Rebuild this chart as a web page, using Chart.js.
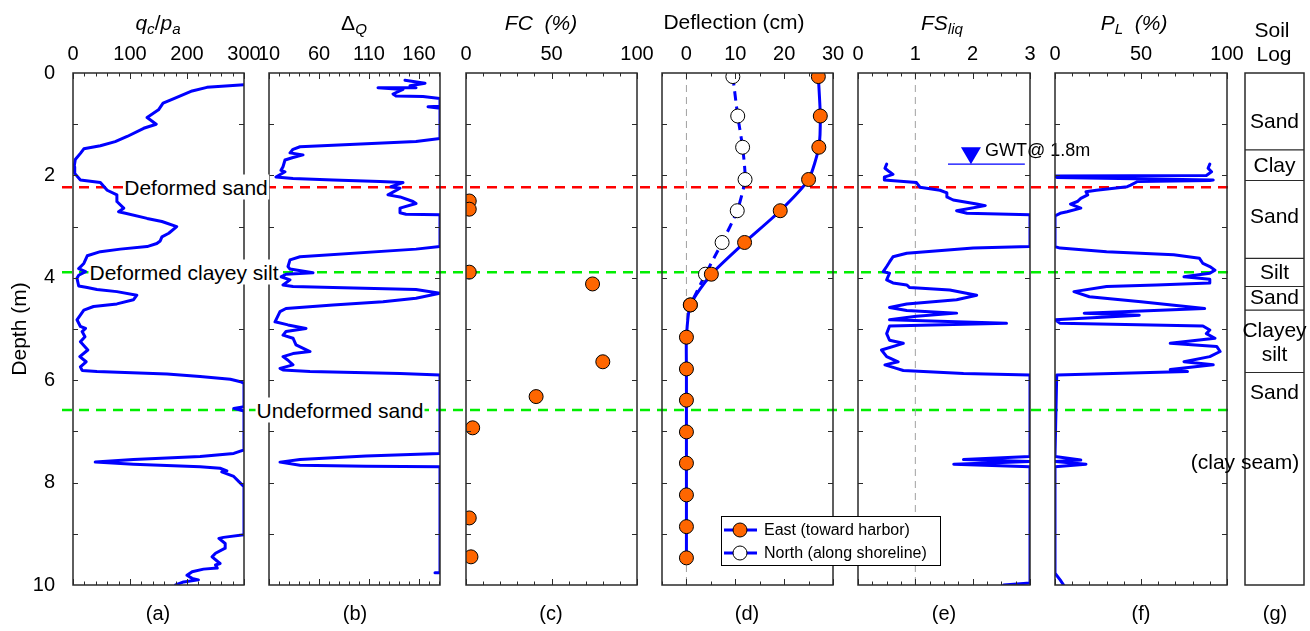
<!DOCTYPE html>
<html>
<head>
<meta charset="utf-8">
<title>Site profile</title>
<script src="https://cdn.jsdelivr.net/npm/chart.js@4/dist/chart.umd.min.js"></script>
<style>
  body { margin: 0; background: #fff; }
  #fig { position: relative; width: 1310px; height: 631px; overflow: hidden;
         font-family: "Liberation Sans", Arial, Helvetica, sans-serif; }
  #fig canvas { position: absolute; top: 0; }
  .txt { position: absolute; transform: translate(-50%, -50%); white-space: nowrap;
         line-height: 1; color: #000; z-index: 6; }
  .ttl { font-size: 21px; }
  .lbl { font-size: 20px; }
  .cut { font-size: 21px; background: #fff; padding: 2px 1px; z-index: 5; }
  sub { font-size: 0.72em; vertical-align: -0.3em; line-height: 0; }
</style>
</head>
<body>
<div id="fig"></div>
<script>
const FONT = '"Liberation Sans", Arial, Helvetica, sans-serif';
const BLUE = '#0000ff';
const ORANGE = '#ff6600';
const FRAME = '#2a2a2a';

// [depth (m), value] pairs of the CPT-based profiles
const qcProfile = [
  [0.23, 300], [0.28, 235], [0.35, 209], [0.50, 177], [0.59, 158], [0.72, 150], [0.87, 130],
  [1.00, 146], [1.08, 124], [1.24, 95], [1.34, 74], [1.42, 48], [1.48, 19], [1.57, 13],
  [1.69, 4], [1.83, 2], [1.96, 3], [2.09, 13], [2.14, 48], [2.29, 60], [2.38, 77], [2.51, 77],
  [2.64, 89], [2.71, 80], [2.74, 92], [2.84, 130], [2.90, 156], [3.00, 182], [3.13, 168],
  [3.20, 156], [3.28, 153], [3.33, 147], [3.39, 130], [3.44, 83], [3.49, 48], [3.57, 25],
  [3.72, 19], [3.82, 10], [3.88, 22], [3.95, 10], [4.01, 7], [4.16, 10], [4.19, 25],
  [4.23, 42], [4.27, 77], [4.34, 112], [4.43, 106], [4.51, 77], [4.56, 36], [4.63, 19],
  [4.82, 7], [4.95, 13], [4.99, 22], [5.05, 16], [5.15, 21], [5.25, 13], [5.41, 26],
  [5.54, 12], [5.64, 23], [5.74, 13], [5.81, 16], [5.83, 42], [5.88, 165], [5.93, 223],
  [5.98, 276], [6.03, 294], [6.06, 300], [6.52, 300], [6.55, 282], [6.60, 300], [7.36, 300],
  [7.43, 282], [7.49, 223], [7.55, 106], [7.60, 39], [7.64, 106], [7.69, 223], [7.72, 258],
  [7.77, 270], [7.79, 261], [7.88, 282], [7.98, 291], [8.08, 300], [9.02, 300], [9.07, 264],
  [9.09, 256], [9.19, 267], [9.28, 267], [9.38, 250], [9.45, 244], [9.58, 258], [9.61, 250],
  [9.67, 253], [9.69, 229], [9.74, 209], [9.81, 200], [9.87, 209], [9.90, 220], [9.94, 194],
  [10.0, 180]
];
const dqProfile = [
  [0.14, 146], [0.20, 166], [0.25, 151], [0.29, 157], [0.29, 119], [0.32, 144], [0.41, 134],
  [0.45, 137], [0.46, 164], [0.50, 181], [0.65, 181], [0.66, 169], [0.69, 181], [1.28, 181],
  [1.34, 157], [1.44, 41], [1.49, 34], [1.56, 31], [1.60, 44], [1.65, 34], [1.70, 26],
  [1.83, 24], [1.90, 22], [1.93, 26], [2.03, 17], [2.06, 34], [2.09, 74], [2.12, 121],
  [2.14, 144], [2.22, 132], [2.25, 141], [2.38, 129], [2.42, 141], [2.51, 154], [2.55, 157],
  [2.64, 141], [2.73, 141], [2.76, 147], [2.77, 181], [3.39, 181], [3.44, 157], [3.59, 41],
  [3.65, 31], [3.78, 29], [3.83, 31], [3.90, 54], [3.93, 27], [3.98, 22], [4.04, 31],
  [4.14, 24], [4.17, 34], [4.19, 74], [4.23, 157], [4.30, 181], [4.40, 157], [4.47, 124],
  [4.53, 74], [4.60, 27], [4.66, 21], [4.86, 16], [4.92, 29], [4.99, 47], [5.05, 27],
  [5.12, 24], [5.18, 34], [5.31, 37], [5.44, 51], [5.48, 34], [5.54, 24], [5.61, 29],
  [5.70, 34], [5.77, 21], [5.80, 24], [5.83, 51], [5.87, 141], [5.90, 181], [7.43, 181],
  [7.48, 107], [7.55, 41], [7.60, 21], [7.66, 41], [7.68, 107], [7.69, 181], [9.76, 181],
  [9.76, 176]
];
const fsProfile = [
  [1.78, 0.50], [1.86, 0.47], [1.93, 0.55], [1.98, 0.61], [2.03, 0.47], [2.09, 0.46],
  [2.14, 1.02], [2.23, 1.08], [2.29, 1.43], [2.34, 1.55], [2.42, 1.55], [2.48, 1.66],
  [2.56, 2.07], [2.59, 2.22], [2.69, 1.72], [2.74, 1.90], [2.77, 3.0], [3.39, 3.0],
  [3.42, 2.01], [3.52, 0.85], [3.59, 0.61], [3.69, 0.55], [3.78, 0.50], [3.88, 0.44],
  [3.91, 0.55], [4.04, 0.50], [4.10, 0.61], [4.14, 0.85], [4.19, 0.90], [4.24, 1.60],
  [4.34, 2.07], [4.43, 1.72], [4.51, 0.85], [4.58, 0.55], [4.64, 0.85], [4.69, 1.72],
  [4.75, 1.02], [4.82, 0.55], [4.89, 2.59], [4.94, 0.55], [5.09, 0.50], [5.22, 0.55],
  [5.28, 0.79], [5.41, 0.41], [5.54, 0.50], [5.64, 0.70], [5.70, 0.47], [5.77, 0.67],
  [5.81, 0.79], [5.87, 1.84], [5.90, 3.0], [7.49, 3.0], [7.55, 1.84], [7.59, 3.0],
  [7.64, 1.67], [7.69, 3.0], [9.96, 3.0], [10.0, 2.54]
];
const plProfile = [
  [1.78, 90], [1.86, 89], [1.93, 91], [2.00, 88], [2.01, 0], [2.04, 1], [2.09, 92], [2.10, 90],
  [2.12, 48], [2.19, 44], [2.22, 42], [2.29, 24], [2.32, 18], [2.38, 19], [2.45, 15],
  [2.51, 13], [2.56, 9], [2.64, 15], [2.71, 7], [2.74, 3], [2.79, 0], [3.39, 0], [3.42, 3],
  [3.49, 30], [3.55, 69], [3.62, 84], [3.72, 86], [3.78, 90], [3.85, 93], [3.91, 90],
  [3.98, 75], [4.03, 90], [4.10, 90], [4.14, 59], [4.17, 30], [4.27, 11], [4.37, 20],
  [4.47, 50], [4.60, 87], [4.69, 17], [4.73, 49], [4.82, 0], [4.89, 3], [4.94, 86],
  [5.02, 90], [5.09, 88], [5.18, 93], [5.28, 67], [5.34, 94], [5.44, 96], [5.54, 90],
  [5.64, 75], [5.70, 92], [5.79, 67], [5.83, 77], [5.90, 1], [7.49, 0], [7.56, 15],
  [7.59, 0], [7.64, 18], [7.69, 0], [9.77, 0], [9.90, 3], [10.0, 5]
];

// fines content samples
const fcDepth = [2.50, 2.66, 3.89, 4.12, 5.64, 6.32, 6.93, 8.69, 9.45];
const fcValue = [1.9, 1.9, 1.9, 74, 80, 41, 3.9, 1.9, 2.9];

// inclinometer deflection
const deflDepth = [0.07, 0.84, 1.45, 2.08, 2.69, 3.31, 3.93, 4.53, 5.16, 5.78, 6.39, 7.01, 7.62, 8.24, 8.86, 9.47];
const eastDefl = [27.0, 27.4, 27.1, 25.0, 19.2, 11.9, 5.1, 0.8, 0, 0, 0, 0, 0, 0, 0, 0];
const northDefl = [9.5, 10.5, 11.5, 12.0, 10.4, 7.3, 3.9, 0.8];

// top axis tick labels
const qcTicks = [0, 100, 200, 300];
const dqTicks = [10, 60, 110, 160];
const fcTicks = [0, 50, 100];
const deflTicks = [0, 10, 20, 30];
const fsTicks = [0, 1, 2, 3];
const plTicks = [0, 50, 100];
const depthTicks = [0, 2, 4, 6, 8, 10];

// horizontal markers running across the panels
const markerDepth = [2.23, 3.89, 6.58];
const markerColor = ['#ff0000', '#00ee00', '#00ee00'];
const markerText = ['Deformed sand', 'Deformed clayey silt', 'Undeformed sand'];

// soil log
const soilBounds = [1.5, 2.1, 3.62, 4.17, 4.63, 5.85];
const soilNames = ['Sand', 'Clay', 'Sand', 'Silt', 'Sand', 'Clayey', 'silt', 'Sand', '(clay seam)'];
const soilNameDepth = [0.97, 1.83, 2.81, 3.91, 4.40, 5.05, 5.51, 6.26, 7.62];
const soilNameX = [0.5, 0.5, 0.5, 0.5, 0.5, 0.5, 0.5, 0.5, 0];

const gwtDepth = 1.8;

Chart.defaults.font.family = FONT;
Chart.defaults.color = '#000';

const fig = document.getElementById('fig');
const TOP = 73, BOTTOM = 585, H = 631;

function addText(html, x, y, cls) {
  const d = document.createElement('div');
  d.className = 'txt ' + cls;
  d.innerHTML = html;
  d.style.left = x + 'px';
  d.style.top = y + 'px';
  fig.appendChild(d);
}

function addCanvas(left, width, z) {
  const c = document.createElement('canvas');
  c.width = width;
  c.height = H;
  c.style.left = left + 'px';
  c.style.zIndex = z;
  fig.appendChild(c);
  return c;
}

function range(a, b, step) {
  const out = [];
  for (let v = a; v <= b + 1e-9; v += step) out.push(+v.toFixed(4));
  return out;
}

const pts = arr => arr.map(([d, v]) => ({ x: v, y: d }));

const profile = arr => ({
  data: pts(arr), showLine: true, borderColor: BLUE, borderWidth: 3,
  pointRadius: 0, tension: 0, borderJoinStyle: 'round', borderCapStyle: 'round'
});

const refLine = v => ({
  data: [{ x: v, y: 0 }, { x: v, y: 10 }], showLine: true, borderColor: '#a0a0a0',
  borderWidth: 1, borderDash: [7, 5], pointRadius: 0
});

// box around the plot area plus inward ticks on all four sides
const frameTicks = {
  id: 'frameTicks',
  afterDatasetsDraw(chart, args, o) {
    if (!o.on) return;
    const { ctx, chartArea: a, scales: { x, y } } = chart;
    const seg = (x1, y1, x2, y2) => { ctx.moveTo(x1, y1); ctx.lineTo(x2, y2); };
    ctx.save();
    ctx.strokeStyle = FRAME;
    ctx.lineWidth = 1;
    ctx.beginPath();
    (o.major || []).forEach(v => {
      const p = Math.round(x.getPixelForValue(v)) + 0.5;
      seg(p, a.top, p, a.top + 6);
      seg(p, a.bottom, p, a.bottom - 6);
    });
    (o.minor || []).forEach(v => {
      const p = Math.round(x.getPixelForValue(v)) + 0.5;
      seg(p, a.top, p, a.top + 3.5);
      seg(p, a.bottom, p, a.bottom - 3.5);
    });
    if (o.depthTicks) {
      for (let d = 1; d < 10; d++) {
        const p = Math.round(y.getPixelForValue(d)) + 0.5;
        seg(a.left, p, a.left + 5, p);
        seg(a.right, p, a.right - 5, p);
      }
    }
    ctx.stroke();
    ctx.lineWidth = 1.5;
    ctx.strokeRect(a.left, a.top, a.right - a.left, a.bottom - a.top);
    ctx.restore();
  }
};
Chart.register(frameTicks);

function panel({ left, width = 171, padL = 30, padR = 30, z = 2, x, yAxis, datasets, ticks = {}, plugins = [] }) {
  const canvas = addCanvas(left - padL, padL + width + padR, z);
  const labels = x.labels || [];
  return new Chart(canvas, {
    type: 'scatter',
    data: { datasets },
    options: {
      responsive: false,
      animation: false,
      events: [],
      layout: { padding: { left: yAxis ? 0 : padL, right: padR, top: 0, bottom: H - BOTTOM } },
      scales: {
        x: {
          type: 'linear', position: 'top', min: x.min, max: x.max,
          grid: { display: false }, border: { display: false },
          afterBuildTicks: s => { s.ticks = labels.map(v => ({ value: v })); },
          afterFit: s => { s.height = TOP; },
          ticks: { display: labels.length > 0, autoSkip: false, maxRotation: 0, padding: -1.5,
                   font: { size: 20 }, callback: v => String(v) }
        },
        y: yAxis || { type: 'linear', reverse: true, min: 0, max: 10, display: false }
      },
      plugins: {
        legend: { display: false },
        tooltip: { enabled: false },
        frameTicks: Object.assign({ on: true, depthTicks: true }, ticks)
      }
    },
    plugins
  });
}

// dashed markers behind the panels
new Chart(addCanvas(0, 1310, 1), {
  type: 'scatter',
  data: {
    datasets: markerDepth.map((d, i) => ({
      data: [{ x: 0, y: d }, { x: 1, y: d }], showLine: true, borderColor: markerColor[i],
      borderWidth: 2.5, borderDash: [10, 7], pointRadius: 0
    }))
  },
  options: {
    responsive: false, animation: false, events: [],
    layout: { padding: { left: 62, right: 77, top: TOP, bottom: H - BOTTOM } },
    scales: {
      x: { type: 'linear', min: 0, max: 1, display: false },
      y: { type: 'linear', reverse: true, min: 0, max: 10, display: false }
    },
    plugins: { legend: { display: false }, tooltip: { enabled: false } }
  }
});

// (a) normalised cone resistance, with the depth axis
panel({
  left: 73, padL: 73,
  x: { min: 0, max: 300, labels: qcTicks },
  yAxis: {
    type: 'linear', reverse: true, min: 0, max: 10, position: 'left',
    grid: { display: false }, border: { display: false },
    afterBuildTicks: s => { s.ticks = depthTicks.map(v => ({ value: v })); },
    afterFit: s => { s.width = 73; },
    ticks: { padding: 10, font: { size: 20 } },
    title: { display: true, text: 'Depth (m)', font: { size: 21 }, padding: { top: 8, bottom: 0 } }
  },
  datasets: [profile(qcProfile)],
  ticks: { major: qcTicks, minor: range(0, 300, 20) }
});

// (b) delta Q
panel({
  left: 269,
  x: { min: 10, max: 181, labels: dqTicks },
  datasets: [profile(dqProfile)],
  ticks: { major: dqTicks, minor: range(10, 180, 10) }
});

// (c) fines content
panel({
  left: 466,
  x: { min: 0, max: 100, labels: fcTicks },
  datasets: [{
    data: fcDepth.map((d, i) => ({ x: fcValue[i], y: d })),
    pointRadius: 7, backgroundColor: ORANGE, borderColor: '#000', borderWidth: 1
  }],
  ticks: { major: fcTicks, minor: range(0, 100, 10) }
});

// (d) deflection, legend box drawn over the next panel
const deflLegend = {
  id: 'deflLegend',
  afterDraw(chart) {
    const { ctx, chartArea: a } = chart;
    const bx = a.left + 59, by = a.top + 443, bw = 219, bh = 49;
    ctx.save();
    ctx.fillStyle = '#fff';
    ctx.fillRect(bx, by, bw, bh);
    ctx.strokeStyle = '#000';
    ctx.lineWidth = 1;
    ctx.strokeRect(bx + 0.5, by + 0.5, bw, bh);
    chart.data.datasets.slice(0, 2).forEach((ds, i) => {
      const cy = by + 14 + i * 23;
      ctx.strokeStyle = ds.borderColor;
      ctx.lineWidth = 3;
      ctx.beginPath();
      ctx.moveTo(bx + 3, cy);
      ctx.lineTo(bx + 36, cy);
      ctx.stroke();
      ctx.beginPath();
      ctx.arc(bx + 19, cy, 7, 0, Math.PI * 2);
      ctx.fillStyle = ds.backgroundColor;
      ctx.fill();
      ctx.strokeStyle = '#000';
      ctx.lineWidth = 1;
      ctx.stroke();
      ctx.fillStyle = '#000';
      ctx.font = '16px ' + FONT;
      ctx.textBaseline = 'middle';
      ctx.fillText(ds.label, bx + 43, cy + 1);
    });
    ctx.restore();
  }
};

panel({
  left: 662, padR: 130, z: 3,
  x: { min: -5, max: 30, labels: deflTicks },
  datasets: [
    {
      label: 'East (toward harbor)',
      data: deflDepth.map((d, i) => ({ x: eastDefl[i], y: d })),
      showLine: true, borderColor: BLUE, borderWidth: 3, tension: 0.2,
      backgroundColor: ORANGE, pointBorderColor: '#000', pointBorderWidth: 1, pointRadius: 7
    },
    {
      label: 'North (along shoreline)',
      data: northDefl.map((v, i) => ({ x: v, y: deflDepth[i] })),
      showLine: true, borderColor: BLUE, borderWidth: 3, borderDash: [9, 6], tension: 0.2,
      backgroundColor: '#fff', pointBorderColor: '#000', pointBorderWidth: 1, pointRadius: 7
    },
    refLine(0)
  ],
  ticks: { major: deflTicks, minor: range(-5, 30, 5) },
  plugins: [deflLegend]
});

// (e) factor of safety, with the water table mark
const gwtMark = {
  id: 'gwtMark',
  afterDatasetsDraw(chart) {
    const { ctx, scales: { x, y } } = chart;
    const py = y.getPixelForValue(gwtDepth);
    const px = x.getPixelForValue(1.97);
    ctx.save();
    ctx.strokeStyle = BLUE;
    ctx.lineWidth = 1.2;
    ctx.beginPath();
    ctx.moveTo(x.getPixelForValue(1.57), py - 1);
    ctx.lineTo(x.getPixelForValue(2.91), py - 1);
    ctx.stroke();
    ctx.fillStyle = BLUE;
    ctx.beginPath();
    ctx.moveTo(px - 10, py - 18);
    ctx.lineTo(px + 10, py - 18);
    ctx.lineTo(px, py - 1);
    ctx.closePath();
    ctx.fill();
    ctx.fillStyle = '#000';
    ctx.font = '18px ' + FONT;
    ctx.textBaseline = 'middle';
    ctx.fillText('GWT@ ' + gwtDepth + 'm', px + 14, py - 14);
    ctx.restore();
  }
};

panel({
  left: 858, width: 172, padR: 80,
  x: { min: 0, max: 3, labels: fsTicks },
  datasets: [profile(fsProfile), refLine(1)],
  ticks: { major: fsTicks, minor: range(0, 3, 0.25) },
  plugins: [gwtMark]
});

// (f) probability of liquefaction
panel({
  left: 1055, width: 172,
  x: { min: 0, max: 100, labels: plTicks },
  datasets: [profile(plProfile)],
  ticks: { major: plTicks, minor: range(0, 100, 10) }
});

// (g) soil log
const soilLabels = {
  id: 'soilLabels',
  afterDatasetsDraw(chart) {
    const { ctx, chartArea: a, scales: { y } } = chart;
    ctx.save();
    ctx.fillStyle = '#000';
    ctx.font = '21px ' + FONT;
    ctx.textAlign = 'center';
    ctx.textBaseline = 'middle';
    soilNames.forEach((t, i) => {
      ctx.fillText(t, a.left + soilNameX[i] * (a.right - a.left), y.getPixelForValue(soilNameDepth[i]));
    });
    ctx.restore();
  }
};

panel({
  left: 1245, width: 59, padL: 65, padR: 6,
  x: { min: 0, max: 1 },
  datasets: [{
    data: soilBounds.flatMap(b => [{ x: 0, y: b }, { x: 1, y: b }, { x: 0.5, y: null }]),
    showLine: true, spanGaps: false, borderColor: FRAME, borderWidth: 1.2, pointRadius: 0
  }],
  ticks: { depthTicks: false },
  plugins: [soilLabels]
});

// axis titles
addText('<i>q<sub>c</sub></i>/<i>p<sub>a</sub></i>', 158, 22, 'ttl');
addText('&Delta;<sub><i>Q</i></sub>', 354, 22, 'ttl');
addText('<i>FC&nbsp;&nbsp;(%)</i>', 541, 22, 'ttl');
addText('Deflection (cm)', 734, 21, 'ttl');
addText('<i>FS<sub>liq</sub></i>', 942, 22, 'ttl');
addText('<i>P<sub>L</sub>&nbsp;&nbsp;(%)</i>', 1134, 22, 'ttl');
addText('Soil', 1272, 29, 'ttl');
addText('Log', 1274, 53, 'ttl');

// panel letters
['(a)', '(b)', '(c)', '(d)', '(e)', '(f)', '(g)'].forEach((t, i) => {
  addText(t, [158, 355, 551, 747, 944, 1141, 1275][i], 613, 'lbl');
});

// marker captions sitting on the dashed lines
markerText.forEach((t, i) => {
  addText(t, [196, 184, 340][i], TOP + markerDepth[i] * (BOTTOM - TOP) / 10, 'cut');
});
</script>
</body>
</html>
